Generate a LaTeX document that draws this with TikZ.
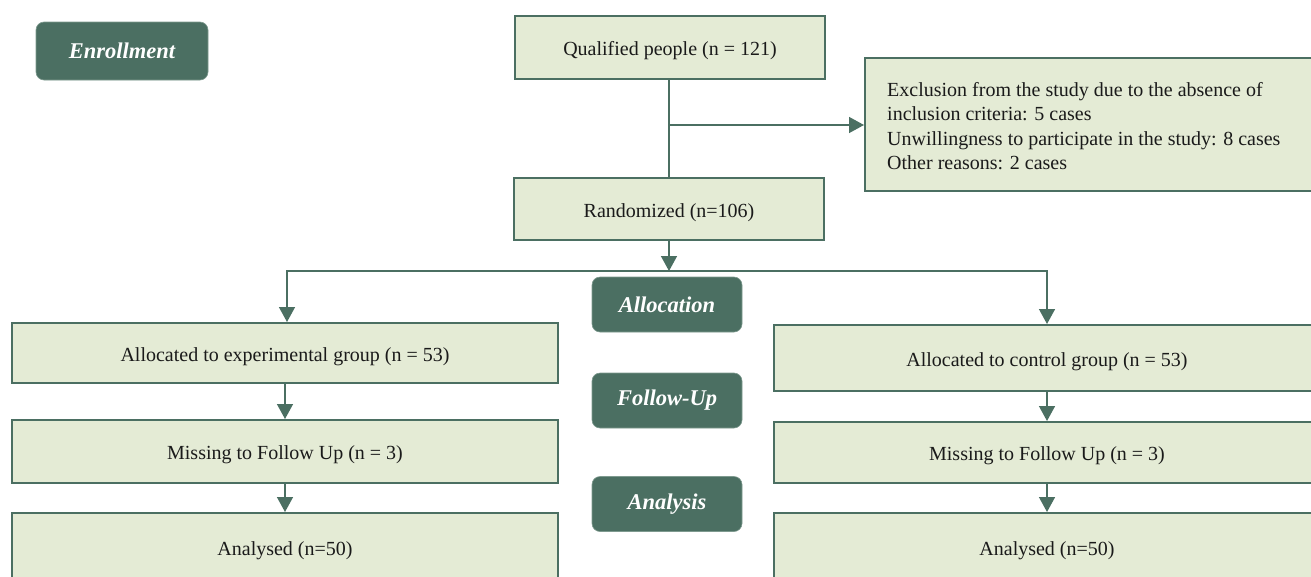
\documentclass[tikz,border=0pt]{standalone}
\usepackage{fontspec}
\setmainfont{Liberation Serif}
\usetikzlibrary{arrows.meta}
\definecolor{boxfill}{HTML}{E4EBD5}
\definecolor{dkgreen}{HTML}{4B6F62}
\definecolor{phaseedge}{HTML}{7E9A8F}
\definecolor{txt}{HTML}{1A1A1A}
\tikzset{
  flowbox/.style={draw=dkgreen, line width=2pt, fill=boxfill, text=txt, inner sep=0pt,
    text height=20pt, text depth=4pt,
    font=\fontsize{20}{23.5}\selectfont},
  phase/.style={fill=dkgreen, draw=phaseedge, line width=0.6pt, rounded corners=8pt, text=white, inner sep=0pt,
    minimum width=150pt, minimum height=55pt,
    font=\fontsize{22.5}{26}\selectfont\bfseries\itshape},
  conn/.style={draw=dkgreen, line width=1.5pt},
  arr/.style={conn, -{Triangle[width=16pt,length=15pt]}},
}
\begin{document}
\begin{tikzpicture}[x=1pt,y=-1pt]
\useasboundingbox (0,0) rectangle (1311,576);
\clip (0,0) rectangle (1311,576);
% phase labels
\node[phase, minimum width=172pt, minimum height=58pt] (enroll) at (122,51) {Enrollment};
\node[phase] (alloc) at (667,304.5) {Allocation};
\node[phase] (follow) at (667,400.5) {Follow-Up};
\node[phase] (anal) at (667,504) {Analysis};
% top boxes
\node[flowbox, minimum width=310pt, minimum height=63pt] (qual) at (670,47.5) {Qualified people (n = 121)};
\node[flowbox, minimum width=310pt, minimum height=62pt] (rand) at (669,209) {Randomized (n=106)};
\node[flowbox, anchor=north west, minimum width=470pt, minimum height=133pt, text height=, text depth=] (excl) at (864,57) {};
\node[anchor=north west, inner sep=0pt, align=left, text=txt, font=\fontsize{20}{24.5}\selectfont] (excltext) at (887,82)
  {Exclusion from the study due to the absence of\\inclusion criteria: 5 cases\\Unwillingness to participate in the study: 8 cases\\Other reasons: 2 cases};
% left column
\node[flowbox, minimum width=546pt, minimum height=60pt] (allocL) at (285,353) {Allocated to experimental group (n = 53)};
\node[flowbox, minimum width=546pt, minimum height=63pt] (missL) at (285,451.5) {Missing to Follow Up (n = 3)};
\node[flowbox, minimum width=546pt, minimum height=69pt] (analL) at (285,547.5) {Analysed (n=50)};
% right column
\node[flowbox, minimum width=546pt, minimum height=66pt] (allocR) at (1047,358) {Allocated to control group (n = 53)};
\node[flowbox, minimum width=546pt, minimum height=61pt] (missR) at (1047,452.5) {Missing to Follow Up (n = 3)};
\node[flowbox, minimum width=546pt, minimum height=69pt] (analR) at (1047,547.5) {Analysed (n=50)};
% connectors
\coordinate (branch) at (669,125);
\coordinate (split) at (669,271);
\coordinate (leftdrop) at (287,271);
\draw[conn] (qual.south -| branch) -- (rand.north -| branch);
\draw[arr] (branch) -- (excl.west |- branch);
\draw[arr] (rand.south -| split) -- (split);
\draw[arr] (split) -- (leftdrop) -- (leftdrop |- allocL.north);
\draw[arr] (split) -| (allocR.north);
\draw[arr] (allocL) -- (missL);
\draw[arr] (missL) -- (analL);
\draw[arr] (allocR) -- (missR);
\draw[arr] (missR) -- (analR);
\end{tikzpicture}
\end{document}
